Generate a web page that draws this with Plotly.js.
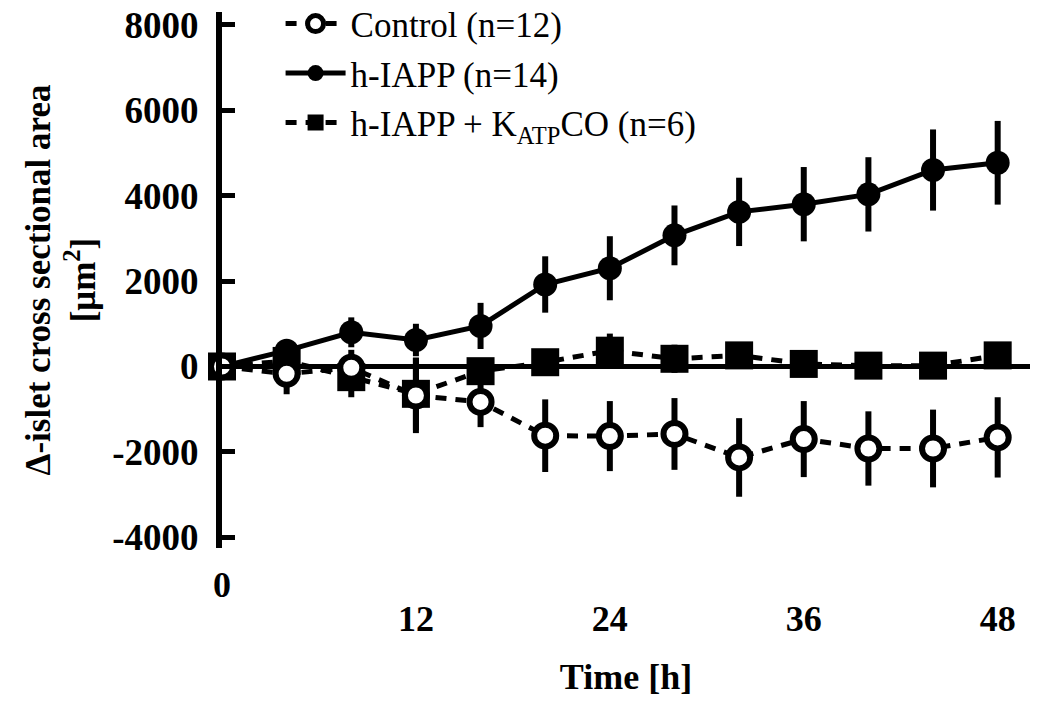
<!DOCTYPE html>
<html>
<head>
<meta charset="utf-8">
<script src="https://cdn.plot.ly/plotly-3.0.1.min.js"></script>
<style>
  body { margin: 0; background: #fff; }
  #myPlot { width: 1050px; height: 702px; }
</style>
</head>
<body>
<div id="myPlot"></div>
<script>
// time points [h]
const hours = [0, 4, 8, 12, 16, 20, 24, 28, 32, 36, 40, 44, 48];

// Control (n=12)
const control_mean = [0, -170, -30, -680, -830, -1620, -1630, -1580, -2130, -1700, -1920, -1920, -1660];
const control_err = [0, 480, 420, 880, 590, 850, 820, 840, 920, 890, 870, 910, 940];

// h-IAPP (n=14)
const iapp_mean = [0, 370, 800, 620, 950, 1920, 2300, 3070, 3620, 3800, 4030, 4600, 4770];
const iapp_err = [0, 150, 350, 380, 540, 660, 750, 700, 800, 870, 870, 950, 980];

// h-IAPP + KATP CO (n=6)
const katp_mean = [0, 130, -250, -640, -110, 100, 370, 180, 260, 60, 20, 20, 260];
const katp_err = [0, 200, 470, 850, 250, 250, 400, 330, 300, 300, 300, 300, 300];

const x_ticks = [12, 24, 36, 48];
const y_ticks = [-4000, -2000, 0, 2000, 4000, 6000, 8000];

const serif = 'Liberation Serif, Times New Roman, serif';

function errBar(arr) {
  return { type: 'data', array: arr, visible: true, color: '#000', thickness: 6, width: 0 };
}

const katpTrace = {
  x: hours, y: katp_mean,
  type: 'scatter', mode: 'lines+markers',
  name: 'h-IAPP + K<sub>ATP</sub>CO (n=6)',
  legendrank: 3, legendgroup: 'c',
  line: { color: '#000', width: 5, dash: '11px,9px' },
  marker: { symbol: 'square', size: 28, color: '#000' },
  error_y: errBar(katp_err),
  cliponaxis: false
};

const iappTrace = {
  x: hours, y: iapp_mean,
  type: 'scatter', mode: 'lines+markers',
  name: 'h-IAPP (n=14)',
  legendrank: 2, legendgroup: 'b',
  line: { color: '#000', width: 5 },
  marker: { symbol: 'circle', size: 24, color: '#000' },
  error_y: errBar(iapp_err),
  cliponaxis: false
};

const controlTrace = {
  x: hours, y: control_mean,
  type: 'scatter', mode: 'lines+markers',
  name: 'Control (n=12)',
  legendrank: 1, legendgroup: 'a',
  line: { color: '#000', width: 5, dash: '11px,9px' },
  marker: { symbol: 'circle', size: 22, color: '#fff', line: { color: '#000', width: 6 } },
  error_y: errBar(control_err),
  cliponaxis: false
};

const layout = {
  width: 1050,
  height: 702,
  margin: { l: 222, r: 20, t: 12, b: 154, autoexpand: false },
  paper_bgcolor: '#fff',
  plot_bgcolor: '#fff',
  showlegend: true,
  legend: {
    x: 0.0725, y: 1.033, xanchor: 'left', yanchor: 'top',
    traceorder: 'grouped', tracegroupgap: 1,
    itemwidth: 60,
    bgcolor: 'rgba(0,0,0,0)',
    font: { family: serif, size: 35, color: '#000' }
  },
  xaxis: {
    range: [0, 50],
    tickvals: x_ticks,
    ticktext: x_ticks.map(String),
    ticks: '',
    showline: false,
    showgrid: false,
    zeroline: false,
    ticklabelstandoff: 46,
    tickfont: { family: serif, size: 36, color: '#000', weight: 'bold' },
    title: { text: 'Time [h]', standoff: 25, font: { family: serif, size: 36, color: '#000', weight: 'bold' } }
  },
  yaxis: {
    range: [-4250, 8300],
    tickvals: y_ticks,
    ticktext: y_ticks.map(String),
    ticks: 'inside',
    ticklen: 13,
    tickwidth: 5,
    tickcolor: '#000',
    showline: true,
    linewidth: 6,
    linecolor: '#000',
    showgrid: false,
    zeroline: true,
    zerolinecolor: '#000',
    zerolinewidth: 5,
    ticklabelstandoff: 10,
    tickfont: { family: serif, size: 37, color: '#000', weight: 'bold' },
    title: {
      text: 'Δ-islet cross sectional area<br>[μm<sup>2</sup>]',
      standoff: 8,
      font: { family: serif, size: 35, color: '#000', weight: 'bold' }
    }
  },
  annotations: [{
    x: 0, y: -0.069, xref: 'x', yref: 'paper',
    text: '0', showarrow: false,
    xanchor: 'center', yanchor: 'middle',
    font: { family: serif, size: 36, color: '#000', weight: 'bold' }
  }]
};

Plotly.newPlot('myPlot', [katpTrace, iappTrace, controlTrace], layout, { staticPlot: true });
</script>
</body>
</html>
